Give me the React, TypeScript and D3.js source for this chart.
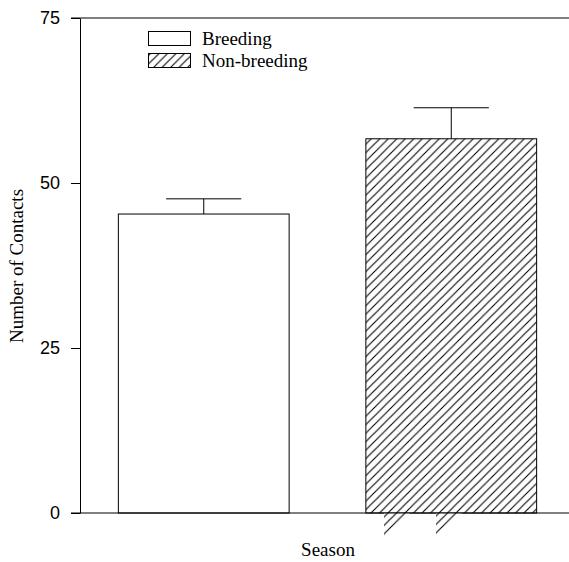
import React, { useEffect, useRef } from "react";
import * as d3 from "d3";

const seasons = ["Breeding", "Non-breeding"];
const meanContacts = [45.3, 56.7];
const stdErrors = [2.3, 4.7];
const yTicks = [0, 25, 50, 75];
// two stray hatch fragments that poke out below the baseline in the original
const strayHatchX = [384, 436];

const W = 569;
const H = 562;

export default function App() {
  const svgRef = useRef<SVGSVGElement>(null);

  useEffect(() => {
    const svg = d3.select(svgRef.current);
    svg.selectAll("*").remove();

    const margin = { top: 18, left: 80, bottom: 49 };
    const y = d3.scaleLinear().domain([0, 75]).range([H - margin.bottom, margin.top]);
    const x = d3.scaleBand<string>()
      .domain(seasons)
      .range([margin.left, 575])
      .paddingInner(0.31)
      .paddingOuter(0.155);

    // hatch pattern, "/" lines about 8.5px apart
    const s = 8.5;
    const defs = svg.append("defs");
    const pat = defs.append("pattern")
      .attr("id", "hatch")
      .attr("patternUnits", "userSpaceOnUse")
      .attr("width", s)
      .attr("height", s);
    pat.append("rect").attr("width", s).attr("height", s).attr("fill", "white");
    pat.append("path")
      .attr("d", `M0,${s}L${s},0M${-s / 2},${s / 2}L${s / 2},${-s / 2}M${s / 2},${s * 1.5}L${s * 1.5},${s / 2}`)
      .attr("stroke", "black").attr("stroke-width", 1.1);

    const fills = ["white", "url(#hatch)"];

    // bars
    svg.selectAll("rect.bar")
      .data(seasons)
      .enter()
      .append("rect")
      .attr("class", "bar")
      .attr("x", d => x(d)!)
      .attr("y", (d, i) => y(meanContacts[i]))
      .attr("width", x.bandwidth())
      .attr("height", (d, i) => y(0) - y(meanContacts[i]))
      .attr("fill", (d, i) => fills[i])
      .attr("stroke", "black")
      .attr("stroke-width", 1);

    // error bars (upper only)
    const capW = x.bandwidth() * 0.44;
    seasons.forEach((c, i) => {
      const cx = x(c)! + x.bandwidth() / 2;
      svg.append("line")
        .attr("x1", cx).attr("x2", cx)
        .attr("y1", y(meanContacts[i])).attr("y2", y(meanContacts[i] + stdErrors[i]))
        .attr("stroke", "black");
      svg.append("line")
        .attr("x1", cx - capW / 2).attr("x2", cx + capW / 2)
        .attr("y1", y(meanContacts[i] + stdErrors[i])).attr("y2", y(meanContacts[i] + stdErrors[i]))
        .attr("stroke", "black");
    });

    // stray hatch triangles under the axis
    strayHatchX.forEach(sx => {
      svg.append("path")
        .attr("d", `M${sx},${y(0)}L${sx + 26},${y(0)}L${sx},${y(0) + 26}Z`)
        .attr("fill", "url(#hatch)");
    });

    // y axis
    const yAxis = d3.axisLeft(y).tickValues(yTicks).tickSize(9).tickSizeOuter(0).tickPadding(11);
    const g = svg.append("g")
      .attr("transform", `translate(${margin.left},0)`)
      .call(yAxis);
    g.select(".domain").attr("stroke", "black");
    g.selectAll(".tick line").attr("stroke", "black");
    g.selectAll(".tick text")
      .attr("fill", "black")
      .style("font-family", "'Liberation Sans', Arial, sans-serif")
      .style("font-size", "18px");

    // frame lines at top and baseline
    [0, 75].forEach(v => {
      svg.append("line")
        .attr("x1", margin.left - 9).attr("x2", W)
        .attr("y1", y(v)).attr("y2", y(v))
        .attr("stroke", "black");
    });

    // legend
    const serif = "'Liberation Serif', 'Times New Roman', serif";
    seasons.forEach((c, i) => {
      const ly = 31 + i * 22;
      svg.append("rect")
        .attr("x", 148.5).attr("y", ly + 0.5)
        .attr("width", 42).attr("height", 14)
        .attr("fill", fills[i])
        .attr("stroke", "black");
      svg.append("text")
        .attr("x", 202).attr("y", ly + 14)
        .style("font-family", serif)
        .style("font-size", "19px")
        .text(c);
    });

    // axis titles
    svg.append("text")
      .attr("x", 328).attr("y", 556)
      .attr("text-anchor", "middle")
      .style("font-family", serif)
      .style("font-size", "19px")
      .text("Season");

    svg.append("text")
      .attr("transform", "rotate(-90)")
      .attr("x", -266).attr("y", 23)
      .attr("text-anchor", "middle")
      .style("font-family", serif)
      .style("font-size", "19px")
      .text("Number of Contacts");
  }, []);

  return (
    <svg
      ref={svgRef}
      width={W}
      height={H}
      style={{ position: "absolute", left: 0, top: 0, background: "white" }}
    />
  );
}
